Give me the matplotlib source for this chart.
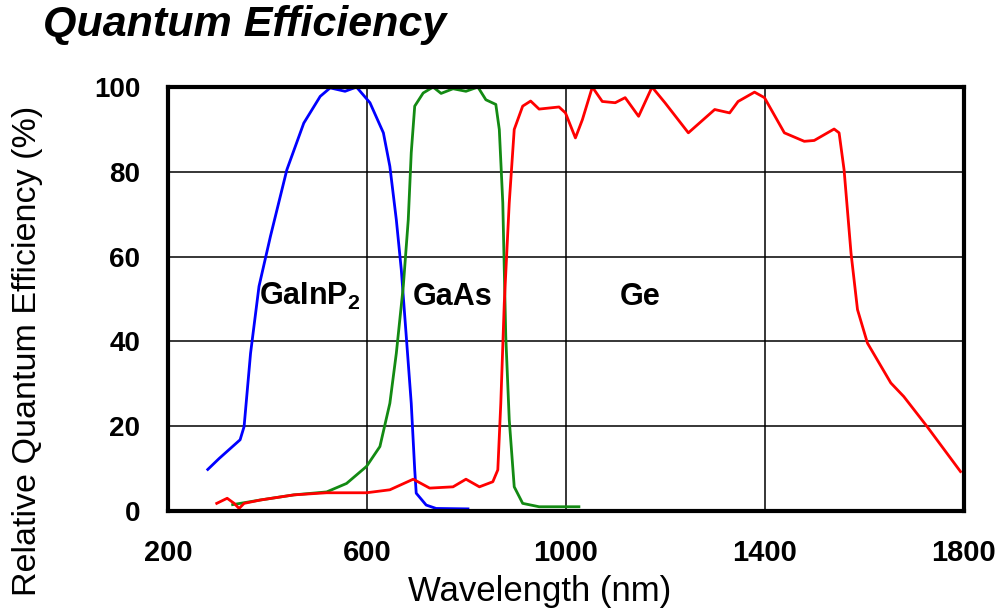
import numpy as np
import matplotlib
matplotlib.use('Agg')
import matplotlib.pyplot as plt

plt.rcParams['font.family'] = ['Liberation Sans', 'DejaVu Sans']
plt.rcParams['mathtext.fontset'] = 'custom'
plt.rcParams['mathtext.bf'] = 'Liberation Sans:bold'
plt.rcParams['mathtext.rm'] = 'Liberation Sans'

# GaInP2 top cell
gainp_nm = [280, 303, 345, 353, 366, 383, 406, 439, 473, 506, 526, 556, 579,
            606, 633, 646, 659, 669, 679, 689, 696, 699, 719, 739, 803]
gainp_qe = [9.8, 12.4, 16.8, 19.9, 37.2, 53, 64.8, 80.5, 91.5, 97.8, 99.8, 99, 100,
            96.3, 89.2, 81.3, 68.7, 56.9, 41.2, 25.4, 9.7, 4.2, 1.4, 0.6, 0.5]

# GaAs middle cell
gaas_nm = [330, 386, 453, 519, 559, 599, 626, 646, 659, 673, 683, 689, 696, 713,
           733, 749, 773, 799, 823, 839, 859, 866, 873, 879, 886, 896, 913, 946, 1026]
gaas_qe = [1.5, 2.6, 3.8, 4.5, 6.5, 10.5, 15.2, 25.4, 37.2, 53, 68.7, 84.5, 95.5, 98.6,
           100, 98.5, 99.6, 99, 100, 97, 95.9, 90, 72.7, 41.2, 21.5, 5.7, 1.8, 1, 1]

# Ge bottom cell
ge_nm = [298, 319, 333, 343, 353, 386, 453, 519, 599, 646, 693, 726, 773, 799,
         826, 853, 863, 869, 876, 886, 896, 913, 929, 946, 986, 999, 1019, 1033,
         1053, 1073, 1099, 1119, 1146, 1173, 1199, 1246, 1299, 1329, 1346, 1379,
         1399, 1439, 1479, 1499, 1539, 1549, 1559, 1573, 1586, 1606, 1653, 1679,
         1726, 1793]
ge_qe = [1.8, 3.0, 1.8, 0.6, 1.8, 2.6, 3.8, 4.3, 4.3, 5.0, 7.5, 5.4, 5.7, 7.5,
         5.7, 6.9, 9.7, 25.4, 49, 72.7, 90, 95.5, 96.7, 94.8, 95.3, 93.9, 88, 92.3,
         100, 96.6, 96.3, 97.5, 93.1, 100, 96.3, 89.2, 94.7, 93.9, 96.6, 98.8,
         97.5, 89.2, 87.2, 87.4, 90.1, 89.2, 80.5, 60.8, 47.5, 39.6, 30.2, 27,
         19.9, 9.3]

x_ticks = [200, 600, 1000, 1400, 1800]
y_ticks = [0, 20, 40, 60, 80, 100]

fig = plt.figure(figsize=(10.01, 6.13), dpi=100)
ax = fig.add_axes([0.1678, 0.1664, 0.7952, 0.6916])

ax.plot(gainp_nm, gainp_qe, color='#0000ff', lw=2.0, solid_joinstyle='round')
ax.plot(gaas_nm, gaas_qe, color='#138a13', lw=2.0, solid_joinstyle='round')
ax.plot(ge_nm, ge_qe, color='#ff0000', lw=2.0, solid_joinstyle='round')

ax.set_xlim(200, 1800)
ax.set_ylim(0, 100)
ax.set_xticks(x_ticks)
ax.set_yticks(y_ticks)
ax.grid(True, color='black', lw=1.1)
ax.set_axisbelow(True)
for s in ax.spines.values():
    s.set_linewidth(3)
ax.tick_params(length=0)
ax.tick_params(axis='x', pad=20, labelsize=21)
ax.tick_params(axis='y', pad=20, labelsize=20)
for lab in ax.get_xticklabels() + ax.get_yticklabels():
    lab.set_fontweight('bold')

ax.set_xlabel('Wavelength (nm)', fontsize=25, va='center')
ax.xaxis.set_label_coords(0.467, -0.189)
ax.set_ylabel('Relative Quantum Efficiency (%)', fontsize=24.5, va='center')
ax.yaxis.set_label_coords(-0.176, 0.377)

ax.text(382, 50.5, r'$\mathbf{GaInP_2}$', fontsize=22, ha='left', va='center')
ax.text(772, 50.5, 'GaAs', fontsize=22, fontweight='bold', ha='center', va='center')
ax.text(1150, 50.5, 'Ge', fontsize=22, fontweight='bold', ha='center', va='center')

fig.text(0.043, 0.941, 'Quantum Efficiency', fontsize=31, fontweight='bold',
         fontstyle='italic', ha='left', va='baseline')

fig.savefig('out.png', dpi=100)
